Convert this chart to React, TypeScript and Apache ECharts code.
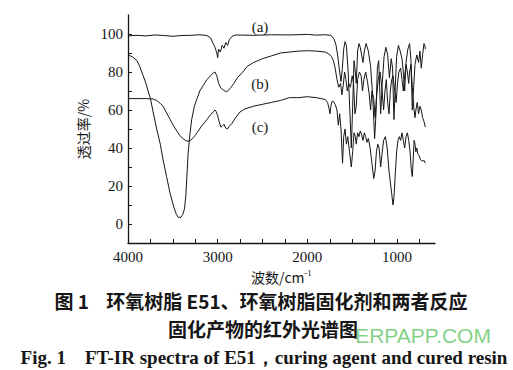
import React, { useEffect, useRef } from "react";
import * as echarts from "echarts";

// [wavenumber cm^-1, transmittance %]
const specA: number[][] = [
  [4000, 99], [3900, 99.3], [3800, 99], [3700, 99.5], [3600, 99.2], [3500, 98.8], [3400, 99.2], [3300, 99.3],
  [3200, 99.6], [3120, 99.2], [3080, 98], [3050, 95], [3030, 93], [3010, 90], [3000, 87.5], [2990, 92],
  [2970, 90.5], [2950, 94], [2930, 92.5], [2910, 95.5], [2890, 94], [2870, 97], [2840, 98.8], [2800, 99.5],
  [2600, 99.3], [2400, 99.6], [2200, 99.5], [2000, 99.8], [1900, 99.4], [1800, 99.6], [1740, 99.3], [1720, 98.5],
  [1700, 97], [1680, 94], [1660, 88], [1640, 80], [1625, 75], [1610, 82], [1595, 92], [1580, 96], [1565, 94],
  [1545, 80], [1525, 58], [1510, 40], [1495, 62], [1480, 86], [1465, 80], [1455, 74], [1440, 91], [1425, 95],
  [1410, 93], [1395, 89], [1380, 85], [1365, 91], [1345, 95], [1320, 91], [1295, 83], [1270, 66], [1250, 45],
  [1235, 58], [1220, 82], [1205, 86], [1183, 58], [1165, 74], [1145, 88], [1125, 93], [1105, 89], [1085, 77],
  [1065, 87], [1050, 82], [1035, 55], [1020, 72], [1005, 88], [985, 94], [965, 91], [945, 87], [930, 80],
  [915, 70], [900, 85], [880, 92], [860, 95], [845, 86], [830, 60], [815, 72], [800, 84], [780, 89], [760, 85],
  [745, 91], [730, 82], [715, 89], [700, 95], [690, 94], [685, 92],
];

const specB: number[][] = [
  [4000, 89], [3950, 88], [3900, 86], [3870, 83], [3830, 78], [3800, 74], [3770, 69], [3750, 66], [3720, 59],
  [3680, 50], [3640, 42], [3610, 34], [3570, 25], [3530, 16], [3490, 9], [3460, 5], [3440, 3.5], [3410, 3.5],
  [3390, 5], [3370, 8], [3355, 15], [3340, 28], [3330, 37], [3310, 47], [3290, 55], [3260, 62], [3230, 66],
  [3200, 70], [3160, 73], [3120, 76], [3080, 78], [3050, 79.5], [3030, 80], [3010, 78], [2990, 74], [2970, 72],
  [2950, 71], [2920, 70], [2900, 69.5], [2880, 70.5], [2850, 72], [2820, 74], [2780, 77], [2720, 80], [2670, 83],
  [2600, 85], [2500, 87], [2400, 88.5], [2300, 90], [2200, 90.5], [2100, 91], [2000, 91.2], [1900, 91],
  [1800, 90.5], [1760, 89.5], [1730, 88], [1710, 86], [1690, 82], [1670, 76], [1650, 72], [1630, 74], [1615, 68],
  [1600, 73], [1585, 80], [1570, 76], [1555, 70], [1540, 74], [1520, 72], [1500, 78], [1485, 74], [1470, 58],
  [1455, 62], [1440, 76], [1420, 80], [1400, 78], [1385, 70], [1370, 76], [1350, 80], [1330, 75], [1310, 68],
  [1295, 60], [1280, 70], [1260, 66], [1245, 56], [1230, 66], [1210, 76], [1190, 80], [1170, 72], [1150, 60],
  [1135, 70], [1120, 76], [1105, 64], [1090, 58], [1075, 70], [1060, 76], [1045, 78], [1025, 70], [1010, 64],
  [995, 74], [980, 80], [960, 82], [945, 76], [930, 70], [915, 78], [900, 84], [885, 80], [870, 74], [860, 80],
  [845, 84], [830, 72], [815, 62], [800, 56], [790, 60], [775, 64], [760, 58], [745, 62], [730, 60], [715, 56],
  [700, 54], [690, 52], [685, 51],
];

const specC: number[][] = [
  [4000, 66], [3900, 66], [3800, 66], [3720, 65.8], [3680, 65], [3640, 63.5], [3610, 62], [3570, 58.5],
  [3530, 55], [3490, 51.5], [3450, 48.5], [3420, 46.5], [3390, 45], [3360, 44], [3330, 43.5], [3300, 44.2],
  [3270, 45.5], [3230, 48], [3180, 51.5], [3120, 55], [3080, 57.5], [3050, 59], [3030, 60], [3015, 59],
  [3000, 57], [2985, 54], [2965, 51], [2950, 51.5], [2930, 52.5], [2910, 50.5], [2890, 50], [2870, 51.5],
  [2840, 53], [2800, 56], [2750, 59], [2700, 60.5], [2600, 62], [2500, 63], [2400, 64], [2300, 65], [2200, 66.5],
  [2100, 66.5], [2000, 67], [1900, 66.5], [1850, 66], [1800, 65.5], [1775, 64], [1760, 61], [1748, 58],
  [1738, 62], [1725, 64.5], [1710, 64.5], [1690, 63], [1670, 60], [1655, 52], [1640, 58], [1625, 50], [1608, 32],
  [1595, 46], [1580, 50], [1565, 42], [1550, 46], [1535, 40], [1510, 30], [1495, 38], [1480, 48], [1465, 46],
  [1455, 42], [1440, 48], [1425, 46], [1410, 49], [1395, 47], [1380, 44], [1365, 48], [1350, 46], [1335, 43],
  [1320, 45], [1300, 40], [1280, 32], [1260, 24], [1245, 28], [1230, 38], [1215, 42], [1200, 40], [1183, 30],
  [1170, 36], [1150, 44], [1130, 46], [1110, 40], [1090, 28], [1075, 22], [1060, 16], [1045, 10], [1035, 14],
  [1020, 26], [1005, 38], [990, 44], [975, 46], [960, 44], [945, 48], [930, 44], [915, 40], [900, 46], [885, 48],
  [870, 44], [855, 38], [840, 28], [830, 25], [820, 34], [810, 44], [800, 42], [790, 38], [780, 40], [770, 37],
  [755, 36], [740, 34], [720, 33], [700, 33.5], [685, 32],
];

const xLabelVals = [4000, 3000, 2000, 1000];
const xTickVals = [4000, 3750, 3500, 3250, 3000, 2750, 2500, 2250, 2000, 1750, 1500, 1250, 1000, 750];
const yLabelVals = [0, 20, 40, 60, 80, 100];
const yTickVals = [0, 10, 20, 30, 40, 50, 60, 70, 80, 90, 100];
const curveNames = ["(a)", "(b)", "(c)"];

const captionCn1 = "图 1    环氧树脂 E51、环氧树脂固化剂和两者反应";
const captionCn2 = "固化产物的红外光谱图";
const captionEn = "Fig. 1    FT-IR spectra of E51，curing agent and cured resin";

export default function App() {
  const ref = useRef<HTMLDivElement>(null);
  useEffect(() => {
    if (!ref.current) return;
    const chart = echarts.init(ref.current, null, { renderer: "svg" });
    const ink = "#161616";
    const serif = '"Liberation Serif", "DejaVu Serif", serif';
    const cjk = '"Noto Sans CJK SC", sans-serif';
    const labelPos = [
      [260, 27],
      [260, 84],
      [260, 127],
    ];
    const center = { align: "center", verticalAlign: "middle", textAlign: "center", textVerticalAlign: "middle" };
    const option: any = {
      animation: false,
      backgroundColor: "#ffffff",
      grid: { left: 128, right: 78, top: 15, bottom: 127 },
      xAxis: {
        type: "value",
        inverse: true,
        min: 577,
        max: 4000,
        axisLine: { onZero: false, lineStyle: { color: ink, width: 1.3 } },
        axisTick: { inside: true, length: 4, customValues: xTickVals, lineStyle: { color: ink } },
        axisLabel: {
          customValues: xLabelVals, color: ink, fontFamily: serif, fontSize: 15, margin: 6,
          formatter: (v: number) => String(v),
        },
        splitLine: { show: false },
        name: "波数/cm{sup|-1}",
        nameLocation: "middle",
        nameGap: 22,
        nameTextStyle: {
          color: ink,
          fontFamily: cjk,
          fontSize: 14,
          rich: {
            sup: { fontSize: 9, color: ink, fontFamily: serif, verticalAlign: "top", padding: [0, 0, 8, 0] },
          },
        },
      },
      yAxis: {
        type: "value",
        min: -10,
        max: 110,
        axisLine: { show: true, onZero: false, lineStyle: { color: ink, width: 1.3 } },
        axisTick: { show: true, inside: true, length: 4, customValues: yTickVals, lineStyle: { color: ink } },
        axisLabel: {
          customValues: yLabelVals, color: ink, fontFamily: serif, fontSize: 15, margin: 5,
          formatter: (v: number) => String(v),
        },
        splitLine: { show: false },
        name: "透过率/%",
        nameLocation: "middle",
        nameRotate: 90,
        nameGap: 31,
        nameTextStyle: { color: ink, fontFamily: cjk, fontSize: 14 },
      },
      series: [specA, specB, specC].map((d, i) => ({
        type: "line",
        name: curveNames[i],
        data: d,
        showSymbol: false,
        symbol: "none",
        lineStyle: { color: ink, width: 1 },
        silent: true,
      })),
      graphic: [
        ...curveNames.map((t, i) => ({
          type: "text",
          x: labelPos[i][0],
          y: labelPos[i][1],
          style: { text: t, fill: ink, font: `15px ${serif}`, ...center },
        })),
        {
          type: "text", x: 261, y: 300,
          style: { text: captionCn1, fill: ink, font: `bold 19px ${cjk}`, ...center },
        },
        {
          type: "text", x: 263, y: 328,
          style: { text: captionCn2, fill: ink, font: `bold 19px ${cjk}`, ...center },
        },
        {
          type: "text", x: 264, y: 357,
          style: { text: captionEn, fill: ink, font: `bold 19px ${serif}`, ...center },
        },
        {
          type: "text", x: 423, y: 335, z: 100,
          style: { text: "ERPAPP.COM", fill: "rgba(110, 200, 110, 0.85)", font: `21px "Liberation Sans", sans-serif`, ...center },
        },
      ],
    };
    chart.setOption(option);
    return () => chart.dispose();
  }, []);
  return <div ref={ref} style={{ width: 513, height: 370, position: "absolute", left: 0, top: 0 }} />;
}
